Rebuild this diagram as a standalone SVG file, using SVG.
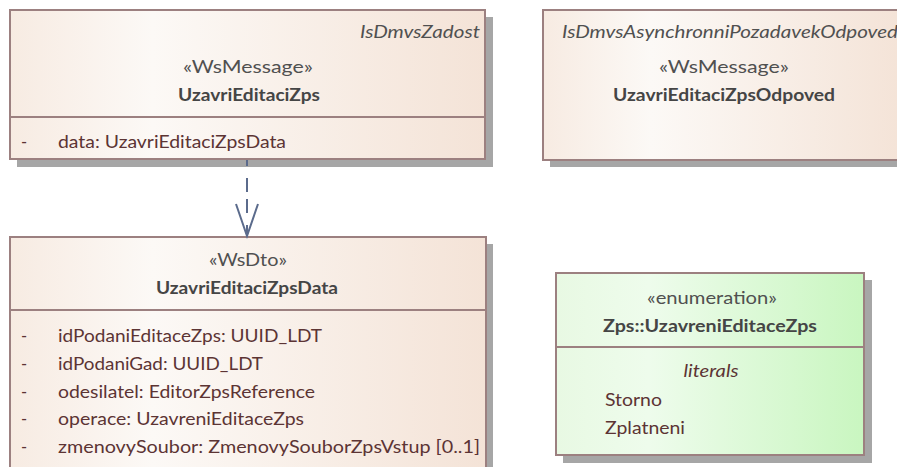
<svg xmlns="http://www.w3.org/2000/svg" width="897" height="467" viewBox="0 0 897 467">
<style>
.box{stroke:#9c8080;stroke-width:2}
.sh{fill:#a6a6a6}
.sep{stroke:#9c8080;stroke-width:2}
text{font-family:Lato,"Liberation Sans",sans-serif;font-size:16.5px}
.st{fill:#505050}
.nm{fill:#454545;font-weight:bold}
.tg{fill:#505050;font-style:italic}
.at{fill:#5c3434}
.c{text-anchor:middle}
</style>
<defs>
<linearGradient id="gp" x1="0" y1="0" x2="1" y2="0">
<stop offset="0" stop-color="#f7ebe2"/>
<stop offset="0.3" stop-color="#fcf9f6"/>
<stop offset="1" stop-color="#f4e3d7"/>
</linearGradient>
<linearGradient id="gg" x1="0" y1="0" x2="1" y2="0">
<stop offset="0" stop-color="#e8f9e3"/>
<stop offset="0.3" stop-color="#eefcec"/>
<stop offset="1" stop-color="#c9f6c0"/>
</linearGradient>
</defs>
<g id="UzavriEditaciZps">
<rect class="sh" x="17" y="17" width="476" height="150"/>
<rect class="box" x="10" y="10" width="475" height="149" fill="url(#gp)"/>
<line class="sep" x1="10" y1="117" x2="485" y2="117"/>
<text class="tg" x="480" y="38" text-anchor="end" textLength="120" lengthAdjust="spacingAndGlyphs">IsDmvsZadost</text>
<text class="st c" x="248" y="73" textLength="130" lengthAdjust="spacingAndGlyphs">«WsMessage»</text>
<text class="nm c" x="249" y="101" textLength="142" lengthAdjust="spacingAndGlyphs">UzavriEditaciZps</text>
<text class="at" x="21" y="148">-</text>
<text class="at" x="58" y="148" textLength="228" lengthAdjust="spacingAndGlyphs">data: UzavriEditaciZpsData</text>
</g>
<g id="UzavriEditaciZpsOdpoved">
<rect class="sh" x="550" y="17" width="360" height="150"/>
<rect class="box" x="543" y="10" width="362" height="150" fill="url(#gp)"/>
<text class="tg" x="562" y="38" textLength="336" lengthAdjust="spacingAndGlyphs">IsDmvsAsynchronniPozadavekOdpoved</text>
<text class="st c" x="724" y="73" textLength="130" lengthAdjust="spacingAndGlyphs">«WsMessage»</text>
<text class="nm c" x="724" y="101" textLength="222" lengthAdjust="spacingAndGlyphs">UzavriEditaciZpsOdpoved</text>
</g>
<g id="UzavriEditaciZpsData">
<rect class="sh" x="17" y="244" width="476" height="240"/>
<rect class="box" x="10" y="237" width="476" height="240" fill="url(#gp)"/>
<line class="sep" x1="10" y1="310" x2="486" y2="310"/>
<text class="st c" x="248" y="266" textLength="78" lengthAdjust="spacingAndGlyphs">«WsDto»</text>
<text class="nm c" x="247" y="294" textLength="182" lengthAdjust="spacingAndGlyphs">UzavriEditaciZpsData</text>
<text class="at" x="21" y="342">-</text>
<text class="at" x="58" y="342" textLength="264" lengthAdjust="spacingAndGlyphs">idPodaniEditaceZps: UUID_LDT</text>
<text class="at" x="21" y="370">-</text>
<text class="at" x="58" y="370" textLength="205" lengthAdjust="spacingAndGlyphs">idPodaniGad: UUID_LDT</text>
<text class="at" x="21" y="398">-</text>
<text class="at" x="58" y="398" textLength="257" lengthAdjust="spacingAndGlyphs">odesilatel: EditorZpsReference</text>
<text class="at" x="21" y="425">-</text>
<text class="at" x="58" y="425" textLength="246" lengthAdjust="spacingAndGlyphs">operace: UzavreniEditaceZps</text>
<text class="at" x="21" y="453">-</text>
<text class="at" x="58" y="453" textLength="422" lengthAdjust="spacingAndGlyphs">zmenovySoubor: ZmenovySouborZpsVstup [0..1]</text>
</g>
<g id="UzavreniEditaceZps">
<rect class="sh" x="563" y="280" width="309" height="183"/>
<rect class="box" x="556" y="273" width="308" height="182" fill="url(#gg)"/>
<line class="sep" x1="556" y1="347" x2="864" y2="347"/>
<text class="st c" x="712" y="304" textLength="130" lengthAdjust="spacingAndGlyphs">«enumeration»</text>
<text class="nm c" x="710" y="332" textLength="214" lengthAdjust="spacingAndGlyphs">Zps::UzavreniEditaceZps</text>
<text class="at c" x="711" y="377" font-style="italic" textLength="55" lengthAdjust="spacingAndGlyphs">literals</text>
<text class="at" x="605" y="406" textLength="57" lengthAdjust="spacingAndGlyphs">Storno</text>
<text class="at" x="605" y="434" textLength="80" lengthAdjust="spacingAndGlyphs">Zplatneni</text>
</g>
<g id="connectors" fill="none" stroke="#5b6b8c" stroke-width="2">
<line x1="247" y1="160" x2="247" y2="236" stroke-dasharray="6 12 14 7 14 12 12"/>
<polyline points="236,204 247,236 258,204"/>
</g>
</svg>
